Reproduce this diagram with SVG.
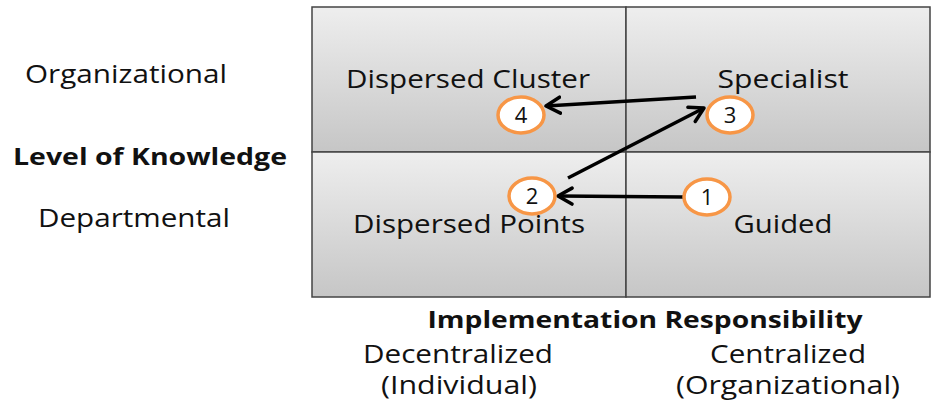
<svg xmlns="http://www.w3.org/2000/svg" width="932" height="405" viewBox="0 0 932 405">
<style>
.t{font-family:"Open Sans","Liberation Sans",sans-serif;font-size:25px;fill:#111;text-anchor:middle}
.b{font-weight:bold;font-size:24px}
.cell{fill:url(#g);stroke:#444;stroke-width:1.5}
.num{fill:#fff;stroke:#f79646;stroke-width:3.5}
.nt{font-family:"Open Sans","Liberation Sans",sans-serif;font-size:22px;fill:#111;text-anchor:middle}
.arr{stroke:#000;stroke-width:3.5;fill:none;marker-end:url(#ah)}
</style>
<defs>
<linearGradient id="g" x1="0" y1="0" x2="0" y2="1">
<stop offset="0" stop-color="#eeeeee"/>
<stop offset="1" stop-color="#c6c6c6"/>
</linearGradient>
<marker id="ah" markerUnits="userSpaceOnUse" markerWidth="20" markerHeight="20" refX="16" refY="9" orient="auto" viewBox="0 0 20 18">
<path d="M2,1 L16,9 L2,17" fill="none" stroke="#000" stroke-width="3.5" stroke-linecap="round" stroke-linejoin="round"/>
</marker>
</defs>
<rect x="0" y="0" width="932" height="405" fill="#fff"/>
<g id="axis-labels">
<text class="t" x="126" y="83" textLength="202" lengthAdjust="spacingAndGlyphs">Organizational</text>
<text class="t b" x="150" y="165" textLength="274" lengthAdjust="spacingAndGlyphs">Level of Knowledge</text>
<text class="t" x="134" y="227" textLength="192" lengthAdjust="spacingAndGlyphs">Departmental</text>
<text class="t b" x="645" y="328" textLength="435" lengthAdjust="spacingAndGlyphs">Implementation Responsibility</text>
<text class="t" x="458" y="363" textLength="190" lengthAdjust="spacingAndGlyphs">Decentralized</text>
<text class="t" x="459" y="394" textLength="156" lengthAdjust="spacingAndGlyphs">(Individual)</text>
<text class="t" x="788" y="363" textLength="156" lengthAdjust="spacingAndGlyphs">Centralized</text>
<text class="t" x="788" y="394" textLength="224" lengthAdjust="spacingAndGlyphs">(Organizational)</text>
</g>
<g id="dispersed-cluster">
<rect class="cell" x="312" y="7" width="314" height="145"/>
<text class="t" x="468" y="88" textLength="244" lengthAdjust="spacingAndGlyphs">Dispersed Cluster</text>
</g>
<g id="specialist">
<rect class="cell" x="626" y="7" width="304" height="145"/>
<text class="t" x="783" y="88" textLength="131" lengthAdjust="spacingAndGlyphs">Specialist</text>
</g>
<g id="dispersed-points">
<rect class="cell" x="312" y="152" width="314" height="145"/>
<text class="t" x="469" y="233" textLength="232" lengthAdjust="spacingAndGlyphs">Dispersed Points</text>
</g>
<g id="guided">
<rect class="cell" x="626" y="152" width="304" height="145"/>
<text class="t" x="783" y="233" textLength="99" lengthAdjust="spacingAndGlyphs">Guided</text>
</g>
<g id="connectors">
<line class="arr" x1="683" y1="197" x2="558" y2="196"/>
<line class="arr" x1="568" y1="178" x2="704" y2="108"/>
<line class="arr" x1="696" y1="97" x2="546" y2="106"/>
</g>
<g id="step-1">
<ellipse class="num" cx="707" cy="197" rx="23" ry="18"/>
<text class="nt" x="707" y="205">1</text>
</g>
<g id="step-2">
<ellipse class="num" cx="532" cy="196" rx="23" ry="18"/>
<text class="nt" x="532" y="204">2</text>
</g>
<g id="step-3">
<ellipse class="num" cx="730" cy="115" rx="23" ry="18"/>
<text class="nt" x="730" y="123">3</text>
</g>
<g id="step-4">
<ellipse class="num" cx="521" cy="115" rx="23" ry="18"/>
<text class="nt" x="521" y="123">4</text>
</g>
</svg>
